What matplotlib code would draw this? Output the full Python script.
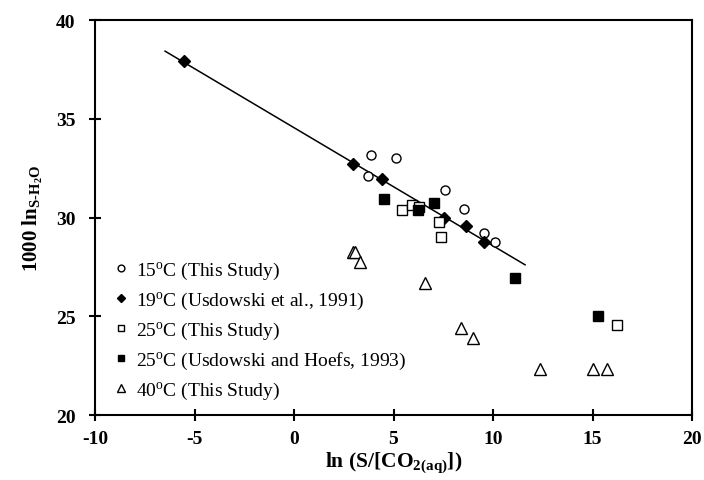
import matplotlib
matplotlib.use("Agg")
import matplotlib.pyplot as plt
import numpy as np

plt.rcParams['font.family'] = ['Liberation Serif', 'DejaVu Serif']
plt.rcParams['mathtext.fontset'] = 'custom'
plt.rcParams['mathtext.rm'] = 'Liberation Serif'
plt.rcParams['mathtext.bf'] = 'Liberation Serif:bold'
plt.rcParams['mathtext.it'] = 'Liberation Serif:italic'
plt.rcParams['axes.unicode_minus'] = False

# 15 C (This Study) - open circles
x15 = [3.70, 3.86, 5.14, 7.57, 8.53, 9.56, 10.09]
y15 = [32.09, 33.16, 33.01, 31.39, 30.45, 29.22, 28.77]

# 19 C (Usdowski et al., 1991) - filled diamonds
x19 = [-5.53, 2.95, 4.44, 7.55, 8.64, 9.56]
y19 = [37.92, 32.74, 31.95, 29.96, 29.58, 28.79]

# 25 C (This Study) - open squares
x25a = [5.41, 5.92, 6.30, 7.30, 7.40, 16.22]
y25a = [30.38, 30.65, 30.52, 29.79, 29.00, 24.57]

# 25 C (Usdowski and Hoefs, 1993) - filled squares
x25b = [4.54, 6.22, 7.05, 11.12, 15.26]
y25b = [30.94, 30.38, 30.73, 26.92, 25.01]

# 40 C (This Study) - open triangles
x40 = [2.94, 3.07, 3.32, 6.60, 8.39, 9.00, 12.38, 15.04, 15.73]
y40 = [28.25, 28.28, 27.75, 26.67, 24.39, 23.88, 22.33, 22.33, 22.33]

# regression line through 19 C data
line_x = [-6.48, 11.61]
line_y = [38.43, 27.61]

labels = ['15$^\\mathregular{o}$C (This Study)',
          '19$^\\mathregular{o}$C (Usdowski et al., 1991)',
          '25$^\\mathregular{o}$C (This Study)',
          '25$^\\mathregular{o}$C (Usdowski and Hoefs, 1993)',
          '40$^\\mathregular{o}$C (This Study)']

fig = plt.figure(figsize=(7.04, 4.81), dpi=100)
ax = fig.add_axes([0.135, 0.135, 0.848, 0.821])

ax.plot(line_x, line_y, color='black', lw=1.1, zorder=1)

ms = 6.5
ax.plot(x15, y15, 'o', ms=ms, mfc='white', mec='black', mew=1.0, label=labels[0], zorder=3)
ax.plot(x19, y19, 'D', ms=6.0, mfc='black', mec='black', mew=1.0, label=labels[1], zorder=3)
ax.plot(x25a, y25a, 's', ms=ms, mfc='white', mec='black', mew=1.0, label=labels[2], zorder=3)
ax.plot(x25b, y25b, 's', ms=ms, mfc='black', mec='black', mew=1.0, label=labels[3], zorder=4)
ax.plot(x40, y40, '^', ms=8, mfc='white', mec='black', mew=1.0, label=labels[4], zorder=3)

ax.set_xlim(-10, 20)
ax.set_ylim(20, 40)
ax.set_xticks([-10, -5, 0, 5, 10, 15, 20])
ax.set_yticks([20, 25, 30, 35, 40])

for s in ax.spines.values():
    s.set_linewidth(1.5)
ax.tick_params(direction='inout', length=8, width=1.5, labelsize=14)
ax.tick_params(axis='y', pad=10)
ax.tick_params(axis='x', pad=7)
for lab in ax.get_xticklabels() + ax.get_yticklabels():
    lab.set_fontweight('bold')

ax.set_xlabel('ln (S/[CO$_\\mathregular{2(aq)}$])', fontsize=15.5, fontweight='bold', labelpad=1)
ax.set_ylabel('1000 ln$_\\mathregular{S\\text{-}H_2O}$', fontsize=15, fontweight='bold', labelpad=8)

leg = ax.legend(loc='lower left', bbox_to_anchor=(0.018, 0.012), frameon=False, fontsize=14,
                handlelength=0.6, handletextpad=0.45, labelspacing=0.45, markerscale=0.75,
                borderaxespad=0.3, borderpad=0.2)

fig.savefig('out.png', dpi=100)
